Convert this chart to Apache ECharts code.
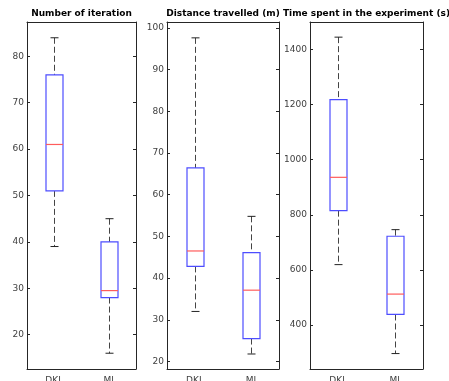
<!DOCTYPE html>
<html>
<head>
<meta charset="utf-8">
<script src="https://cdn.jsdelivr.net/npm/echarts@6/dist/echarts.min.js"></script>
<style>
html, body { margin: 0; padding: 0; background: #fff; }
#chart { width: 449px; height: 381px; }
</style>
</head>
<body>
<div id="chart"></div>
<script>
var categories = ['DKL', 'MI'];

// each box: [lower whisker, Q1, median, Q3, upper whisker]
var iterationBoxes = [[39, 51, 61, 76, 84], [16, 28, 29.5, 40, 45]];
var distanceBoxes = [[32, 42.8, 46.5, 66.4, 97.6], [21.8, 25.5, 37.1, 46.1, 54.8]];
var timeBoxes = [[619, 815, 936, 1218, 1445], [296, 438, 512, 722, 746]];

var iterationTicks = [20, 30, 40, 50, 60, 70, 80];
var distanceTicks = [20, 30, 40, 50, 60, 70, 80, 90, 100];
var timeTicks = [400, 600, 800, 1000, 1200, 1400];

var titles = ['Number of iteration', 'Distance travelled (m)', 'Time spent in the experiment (s)'];

var panels = [
    {boxes: iterationBoxes, ticks: iterationTicks, min: 12.6, max: 87.4, left: 27, width: 109},
    {boxes: distanceBoxes, ticks: distanceTicks, min: 18.2, max: 101.4, left: 167, width: 112},
    {boxes: timeBoxes, ticks: timeTicks, min: 240, max: 1500, left: 310, width: 113}
];

var axisColor = '#262626';
var labelColor = '#404040';
var fontFamily = 'DejaVu Sans';

function renderBox(params, api) {
    var x = api.value(0);
    var lo = api.coord([x, api.value(1)]);
    var q1 = api.coord([x, api.value(2)]);
    var med = api.coord([x, api.value(3)]);
    var q3 = api.coord([x, api.value(4)]);
    var hi = api.coord([x, api.value(5)]);
    var cx = Math.round(lo[0]) + 0.5;
    var hw = 8.5;
    var cap = 4;
    var dash = {stroke: '#444', lineWidth: 1, lineDash: [6, 3]};
    var solid = {stroke: '#222', lineWidth: 1};
    return {
        type: 'group',
        children: [
            {type: 'line', shape: {x1: cx, y1: hi[1], x2: cx, y2: q3[1]}, style: dash},
            {type: 'line', shape: {x1: cx, y1: q1[1], x2: cx, y2: lo[1]}, style: dash},
            {type: 'line', shape: {x1: cx - cap, y1: hi[1], x2: cx + cap, y2: hi[1]}, style: solid},
            {type: 'line', shape: {x1: cx - cap, y1: lo[1], x2: cx + cap, y2: lo[1]}, style: solid},
            {type: 'rect', shape: {x: cx - hw, y: q3[1], width: hw * 2, height: q1[1] - q3[1]},
                style: {fill: '#fff', stroke: '#4d4dff', lineWidth: 1.2}},
            {type: 'line', shape: {x1: cx - hw, y1: med[1], x2: cx + hw, y2: med[1]},
                style: {stroke: '#ff5c5c', lineWidth: 1.2}}
        ]
    };
}

var grid = [], xAxis = [], yAxis = [], series = [], graphic = [];

panels.forEach(function (p, i) {
    grid.push({left: p.left, width: p.width, top: 22, bottom: 12, outerBoundsMode: 'none', containLabel: false});
    graphic.push({
        type: 'text',
        x: p.left + p.width / 2,
        y: 14,
        style: {
            text: titles[i], textAlign: 'center', textVerticalAlign: 'middle',
            font: 'bold 9px "DejaVu Sans"', fill: '#000'
        }
    });
    // bottom and top category axes
    xAxis.push({
        type: 'category', gridIndex: i, data: categories, position: 'bottom',
        axisLine: {lineStyle: {color: axisColor}},
        axisTick: {inside: true, length: 3, alignWithLabel: true, lineStyle: {color: axisColor}},
        axisLabel: {color: labelColor, fontFamily: fontFamily, fontSize: 9, margin: 7}
    });
    xAxis.push({
        type: 'category', gridIndex: i, data: categories, position: 'top',
        axisLine: {lineStyle: {color: axisColor}},
        axisTick: {inside: true, length: 3, alignWithLabel: true, lineStyle: {color: axisColor}},
        axisLabel: {show: false}
    });
    yAxis.push({
        type: 'value', gridIndex: i, min: p.min, max: p.max, position: 'left',
        axisLine: {show: true, lineStyle: {color: axisColor}},
        axisTick: {show: true, inside: true, length: 3, customValues: p.ticks, lineStyle: {color: axisColor}},
        axisLabel: {color: labelColor, fontFamily: fontFamily, fontSize: 9, margin: 3,
            customValues: p.ticks, formatter: function (v) { return String(v); }},
        splitLine: {show: false}
    });
    yAxis.push({
        type: 'value', gridIndex: i, min: p.min, max: p.max, position: 'right',
        axisLine: {show: true, lineStyle: {color: axisColor}},
        axisTick: {show: true, inside: true, length: 3, customValues: p.ticks, lineStyle: {color: axisColor}},
        axisLabel: {show: false},
        splitLine: {show: false}
    });
    series.push({
        type: 'custom',
        xAxisIndex: i * 2,
        yAxisIndex: i * 2,
        renderItem: renderBox,
        encode: {x: 0, y: [1, 2, 3, 4, 5]},
        data: p.boxes.map(function (b, k) { return [k].concat(b); })
    });
});

var chart = echarts.init(document.getElementById('chart'));
chart.setOption({
    animation: false,
    graphic: graphic,
    grid: grid,
    xAxis: xAxis,
    yAxis: yAxis,
    series: series
});
</script>
</body>
</html>
